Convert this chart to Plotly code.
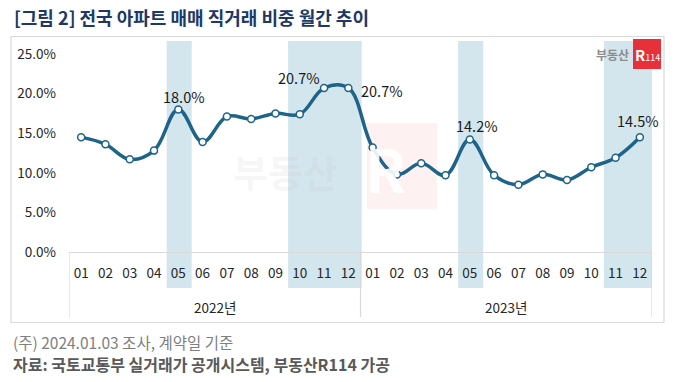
import plotly.graph_objects as go

# ---------------- data ----------------
years = ["2022년", "2023년"]
months = ["01", "02", "03", "04", "05", "06", "07", "08", "09", "10", "11", "12"]
share_2022 = [14.5, 13.6, 11.7, 12.8, 18.0, 13.9, 17.1, 16.8, 17.5, 17.4, 20.7, 20.7]
share_2023 = [13.2, 9.8, 11.2, 9.7, 14.2, 9.7, 8.5, 9.8, 9.1, 10.7, 11.9, 14.5]
y_ticks = [0, 5, 10, 15, 20, 25]
highlights = [[("2022년", "05")], [("2022년", "10"), ("2022년", "12")],
              [("2023년", "05")], [("2023년", "11"), ("2023년", "12")]]
labelled = [("2022년", "05"), ("2022년", "11"), ("2022년", "12"), ("2023년", "05"), ("2023년", "12")]

title = "[그림 2] 전국 아파트 매매 직거래 비중 월간 추이"
note = "(주) 2024.01.03 조사, 계약일 기준"
source = "자료: 국토교통부 실거래가 공개시스템, 부동산R114 가공"

# ---------------- derived ----------------
cats = [f"{y} {m}" for y in years for m in months]
values = share_2022 + share_2023
idx = {(y, m): i for i, (y, m) in enumerate((y, m) for y in years for m in months)}

W, H = 676, 382
L, R, T, B = 69, 24, 54, 130
PW, PH = W - L - R, H - T - B
def px(x):  # pixel x -> paper x
    return (x - L) / PW
def py(y):  # pixel y -> paper y
    return (H - B - y) / PH

FONT = "Noto Sans CJK KR, Noto Sans, sans-serif"
LINE = "#1e6488"
BAND = "#d3e5ed"
GRID = "#d9d9d9"

fig = go.Figure()
fig.add_trace(go.Scatter(
    x=cats, y=values, mode="lines+markers",
    line=dict(color=LINE, width=3.5, shape="spline", smoothing=1.1),
    marker=dict(size=7, color="white", line=dict(color=LINE, width=1.5)),
    hoverinfo="x+y", showlegend=False, cliponaxis=False,
))

shapes = []
# outer frame
shapes.append(dict(type="rect", xref="paper", yref="paper", x0=px(11), x1=px(664),
                   y0=py(322.5), y1=py(36.5), line=dict(color=GRID, width=1.2), layer="below"))
# highlight bands
pad_l, pad_r = 0.48, 0.55
for band in highlights:
    i0 = idx[band[0]]
    i1 = idx[band[-1]]
    shapes.append(dict(type="rect", xref="x", yref="paper", x0=i0 - pad_l, x1=i1 + pad_r,
                       y0=py(288), y1=py(41), fillcolor=BAND, line=dict(width=0), layer="below"))
# watermark
shapes.append(dict(type="rect", xref="paper", yref="paper", x0=px(367), x1=px(437),
                   y0=py(209), y1=py(123), fillcolor="#fdf1f1", line=dict(width=0), layer="below"))
# category axis dividers
for xd in [-0.5, len(months) - 0.5, len(cats) - 0.5]:
    shapes.append(dict(type="line", xref="x", yref="paper", x0=xd, x1=xd,
                       y0=0, y1=py(317), line=dict(color=GRID, width=1.2)))
# logo box
shapes.append(dict(type="rect", xref="paper", yref="paper", x0=px(633), x1=px(661),
                   y0=py(69), y1=py(39), fillcolor="#e8303a", line=dict(width=0)))

ann = []
# watermark text
ann.append(dict(text="<b>부동산</b>", xref="paper", yref="paper", x=px(285), y=py(170),
                xanchor="center", yanchor="middle",
                showarrow=False, font=dict(family=FONT, size=38, color="rgba(200,200,200,0.16)")))
ann.append(dict(text="<b>R</b>", xref="paper", yref="paper", x=px(385), y=py(166),
                xanchor="center", yanchor="middle",
                showarrow=False, font=dict(family=FONT, size=60, color="rgba(255,255,255,0.9)")))
# year labels
for k, yname in enumerate(years):
    ann.append(dict(text=yname, xref="x", yref="paper", x=k * len(months) + (len(months) - 1) / 2,
                    y=py(307), xanchor="center", yanchor="middle", showarrow=False,
                    font=dict(family=FONT, size=13.5, color="#262626")))
# data labels
offsets = {0: (6, 13, "center"), 1: (-2, 11, "right"), 2: (11, -2, "left"), 3: (7, 14, "center"), 4: (-2, 17, "center")}
for k, key in enumerate(labelled):
    i = idx[key]
    dx, dy, anchor = offsets[k]
    ann.append(dict(text=f"{values[i]:.1f}%", x=cats[i], y=values[i], xref="x", yref="y",
                    showarrow=False, xanchor=anchor, yanchor="middle", xshift=dx, yshift=dy,
                    font=dict(family=FONT, size=14.5, color="#1a1a1a")))
# logo
ann.append(dict(text="<b>부동산</b>", xref="paper", yref="paper", x=px(631), y=py(54),
                xanchor="right", yanchor="middle", showarrow=False,
                font=dict(family=FONT, size=12, color="#8c8c8c")))
ann.append(dict(text="<b>R</b><span style='font-size:9px'>114</span>", xref="paper", yref="paper",
                x=px(647), y=py(54), xanchor="center", yanchor="middle", showarrow=False,
                font=dict(family=FONT, size=15, color="white")))
# title + notes
ann.append(dict(text=f"<b>{title}</b>", xref="paper", yref="paper", x=px(12), y=py(17),
                xanchor="left", yanchor="middle", showarrow=False,
                font=dict(family=FONT, size=18, color="#203864")))
ann.append(dict(text=note, xref="paper", yref="paper", x=px(11), y=py(342),
                xanchor="left", yanchor="middle", showarrow=False,
                font=dict(family=FONT, size=15.5, color="#7f7f7f")))
ann.append(dict(text=f"<b>{source}</b>", xref="paper", yref="paper", x=px(11), y=py(364),
                xanchor="left", yanchor="middle", showarrow=False,
                font=dict(family=FONT, size=16, color="#595959")))

fig.update_layout(
    width=W, height=H, margin=dict(l=L, r=R, t=T, b=B),
    paper_bgcolor="white", plot_bgcolor="rgba(0,0,0,0)",
    font=dict(family=FONT, size=13, color="#262626"),
    shapes=shapes, annotations=ann,
    xaxis=dict(type="category", tickmode="array", tickvals=cats,
               ticktext=[m for _ in years for m in months],
               range=[-0.5, len(cats) - 0.5], showgrid=False, zeroline=False,
               showline=True, linecolor=GRID, linewidth=1.2, ticks="",
               ticklabelstandoff=9, tickfont=dict(size=13.5, color="#262626"), fixedrange=True),
    yaxis=dict(range=[0, 25], tickvals=y_ticks, ticktext=[f"{v:.1f}%" for v in y_ticks],
               showgrid=False, zeroline=False, showline=False, ticks="",
               ticklabelstandoff=12, tickfont=dict(size=13.5, color="#262626"), fixedrange=True),
)

fig.write_html("out.html", config={"displayModeBar": False},
               post_script="document.body.style.margin='0';document.body.style.overflow='hidden';")
